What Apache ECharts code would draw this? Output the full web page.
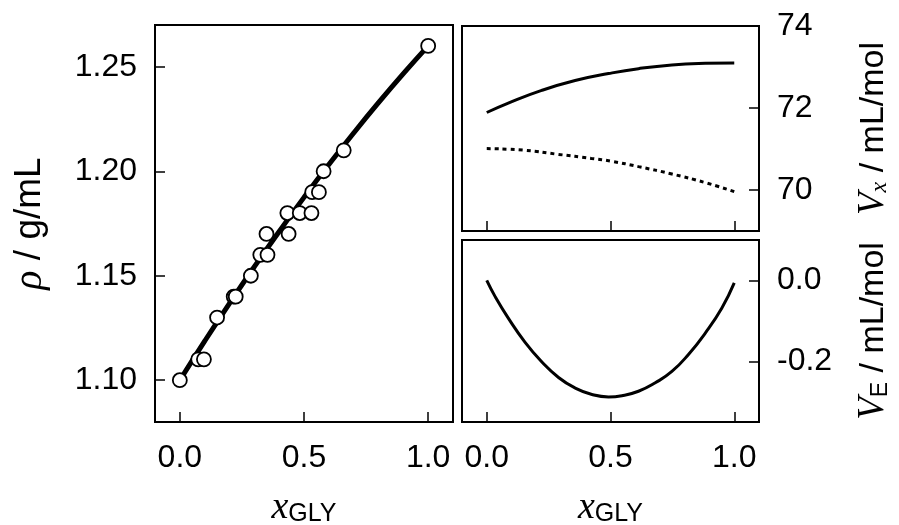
<!DOCTYPE html>
<html><head><meta charset="utf-8">
<script src="https://cdn.jsdelivr.net/npm/echarts@6/dist/echarts.min.js"></script>
<style>html,body{margin:0;padding:0;background:#fff}#c{width:899px;height:525px}</style>
</head><body><div id="c"></div>
<script>
// ---- tick labels ----
const xTicks = [0.0, 0.5, 1.0];
const rhoTicks = [1.10, 1.15, 1.20, 1.25];
const vxTicks = [70, 72, 74];
const veTicks = [0.0, -0.2];

// ---- density: measured points ----
const rhoObsX = [0.000, 0.074, 0.097, 0.150, 0.217, 0.225, 0.286, 0.324, 0.353, 0.349, 0.438, 0.433, 0.483, 0.530, 0.533, 0.560, 0.579, 0.660, 1.000];
const rhoObsY = [1.100, 1.110, 1.110, 1.130, 1.140, 1.140, 1.150, 1.160, 1.160, 1.170, 1.170, 1.180, 1.180, 1.180, 1.190, 1.190, 1.200, 1.210, 1.260];
// ---- density: fitted curve ----
const rhoFitX = [0.0, 0.1, 0.2, 0.3, 0.4, 0.5, 0.6, 0.7, 0.8, 0.9, 1.0];
const rhoFitY = [1.100, 1.1187, 1.1368, 1.1543, 1.1712, 1.1875, 1.2032, 1.2183, 1.2328, 1.2467, 1.260];

// ---- partial molar volumes (solid / dotted) ----
const vxSolidX = [0.0, 0.087, 0.222, 0.357, 0.492, 0.613, 0.748, 0.883, 1.0];
const vxSolidY = [71.89, 72.12, 72.43, 72.67, 72.84, 72.96, 73.05, 73.09, 73.10];
const vxDotX = [0.0, 0.153, 0.288, 0.423, 0.505, 0.613, 0.748, 0.883, 1.0];
const vxDotY = [71.01, 70.97, 70.87, 70.77, 70.70, 70.57, 70.39, 70.18, 69.96];

// ---- excess volume ----
const veX = [0.0, 0.034, 0.087, 0.155, 0.222, 0.290, 0.357, 0.425, 0.492, 0.546, 0.613, 0.681, 0.748, 0.815, 0.883, 0.950, 1.0];
const veY = [0.0, -0.040, -0.093, -0.153, -0.201, -0.240, -0.266, -0.282, -0.288, -0.285, -0.274, -0.253, -0.225, -0.183, -0.130, -0.068, -0.006];

const zip = (a, b) => a.map((v, i) => [v, b[i]]);
const SANS = "'Liberation Sans', Arial, sans-serif";
const SERIF = "'Liberation Serif', 'DejaVu Serif', serif";
const FS = 32;

function xAxis(gridIndex, showLabel, withName) {
  return {
    type: 'value', gridIndex, min: -0.1, max: 1.1,
    axisLine: { show: false, onZero: false },
    splitLine: { show: false },
    axisTick: { show: true, inside: true, length: 10, customValues: xTicks, lineStyle: { color: '#000', width: 1.5 } },
    axisLabel: { show: showLabel, customValues: xTicks, formatter: v => v.toFixed(1), margin: 20, fontSize: FS, color: '#000', fontFamily: SANS },
    name: withName ? '{m|x}{s|GLY}' : '',
    nameLocation: 'middle', nameGap: 67,
    nameTextStyle: {
      color: '#000', fontSize: 36,
      rich: {
        m: { fontFamily: SERIF, fontStyle: 'italic', fontSize: 38, lineHeight: 38, color: '#000' },
        s: { fontFamily: SANS, fontSize: 25, lineHeight: 16, verticalAlign: 'bottom', color: '#000' }
      }
    }
  };
}

function yAxis(gridIndex, pos, min, max, ticks, fmt, name, gap, nfs) {
  return {
    type: 'value', gridIndex, position: pos, min, max,
    axisLine: { show: false, onZero: false },
    splitLine: { show: false },
    axisTick: { show: true, inside: true, length: 10, customValues: ticks, lineStyle: { color: '#000', width: 1.5 } },
    axisLabel: { customValues: ticks, formatter: fmt, margin: 18, fontSize: FS, color: '#000', fontFamily: SANS },
    name, nameLocation: 'middle', nameRotate: 90, nameGap: gap,
    nameTextStyle: {
      color: '#000', fontSize: nfs,
      rich: {
        m: { fontFamily: SERIF, fontStyle: 'italic', fontSize: nfs + 3, color: '#000' },
        n: { fontFamily: SANS, fontSize: nfs, color: '#000' },
        s: { fontFamily: SERIF, fontStyle: 'italic', fontSize: 24, lineHeight: 12, verticalAlign: 'bottom', color: '#000' },
        e: { fontFamily: SANS, fontSize: 23, lineHeight: 12, verticalAlign: 'bottom', color: '#000' }
      }
    }
  };
}

const gridBase = { show: true, borderColor: '#000', borderWidth: 2, backgroundColor: 'transparent', containLabel: false, outerBoundsMode: 'none' };

const chart = echarts.init(document.getElementById('c'));
chart.setOption({
  animation: false,
  backgroundColor: '#fff',
  grid: [
    Object.assign({ left: 155, top: 25, width: 298, height: 397 }, gridBase),
    Object.assign({ left: 462, top: 26, width: 297, height: 205 }, gridBase),
    Object.assign({ left: 462, top: 240, width: 297, height: 182 }, gridBase)
  ],
  xAxis: [xAxis(0, true, true), xAxis(1, false, false), xAxis(2, true, true)],
  yAxis: [
    yAxis(0, 'left', 1.08, 1.27, rhoTicks, v => v.toFixed(2), '{m|ρ}{n| / g/mL}', 105, 37),
    yAxis(1, 'right', 69, 74, vxTicks, v => String(Math.round(v)), '{m|V}{s|x}{n| / mL/mol}', 96, 34),
    yAxis(2, 'right', -0.35, 0.1, veTicks, v => v.toFixed(1), '{m|V}{e|E}{n| / mL/mol}', 96, 34)
  ],
  series: [
    { type: 'line', xAxisIndex: 0, yAxisIndex: 0, data: zip(rhoFitX, rhoFitY), smooth: true, showSymbol: false,
      lineStyle: { color: '#000', width: 5 }, z: 2 },
    { type: 'scatter', xAxisIndex: 0, yAxisIndex: 0, data: zip(rhoObsX, rhoObsY), symbol: 'circle', symbolSize: 14,
      itemStyle: { color: '#fff', borderColor: '#000', borderWidth: 1.8, opacity: 1 }, z: 3 },
    { type: 'line', xAxisIndex: 1, yAxisIndex: 1, data: zip(vxSolidX, vxSolidY), smooth: true, showSymbol: false,
      lineStyle: { color: '#000', width: 3 } },
    { type: 'line', xAxisIndex: 1, yAxisIndex: 1, data: zip(vxDotX, vxDotY), smooth: true, showSymbol: false,
      lineStyle: { color: '#000', width: 3, type: [4, 4], cap: 'butt' } },
    { type: 'line', xAxisIndex: 2, yAxisIndex: 2, data: zip(veX, veY), smooth: true, showSymbol: false,
      lineStyle: { color: '#000', width: 3 } }
  ]
});
</script>
</body></html>
